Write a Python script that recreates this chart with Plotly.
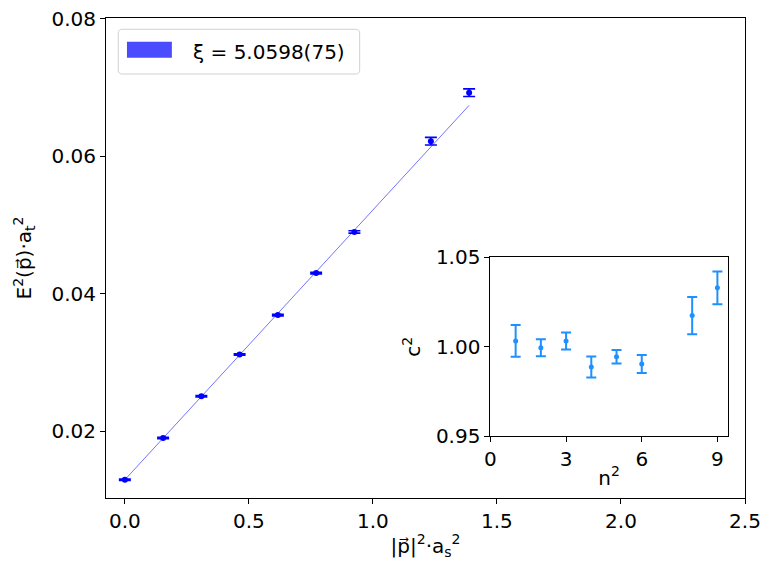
import plotly.graph_objects as go

# Main panel data: dispersion relation
n2 = [0, 1, 2, 3, 4, 5, 6, 8, 9]
p2 = [0.0, 0.1542, 0.3084, 0.4626, 0.6169, 0.7711, 0.9253, 1.2337, 1.3879]
E2 = [0.01295, 0.01902, 0.0251, 0.03116, 0.0369, 0.04301, 0.04899, 0.06219, 0.06924]
E2_err = [0.00010, 0.00010, 0.00010, 0.00010, 0.00012, 0.00012, 0.00018, 0.00055, 0.00055]

fit_x = [0.0, 1.3879]
fit_y = [0.01295, 0.0674]
fit_label = "ξ = 5.0598(75)"

# Inset data: speed of light squared
c2_n2 = [1, 2, 3, 4, 5, 6, 8, 9]
c2 = [1.0032, 0.9994, 1.0032, 0.9886, 0.9944, 0.9903, 1.0174, 1.0329]
c2_err = [0.0089, 0.0048, 0.0048, 0.0059, 0.0038, 0.0050, 0.0104, 0.0092]

FONT = "DejaVu Sans"
FS = 20

fig = go.Figure()

fig.add_trace(go.Scatter(
    x=fit_x, y=fit_y, mode="lines",
    line=dict(color="rgba(0,0,255,0.55)", width=1),
    showlegend=False, xaxis="x", yaxis="y"))

fig.add_trace(go.Scatter(
    x=p2, y=E2, mode="markers",
    marker=dict(color="blue", size=6),
    error_y=dict(type="data", array=E2_err, color="blue", thickness=1.6, width=6),
    showlegend=False, xaxis="x", yaxis="y"))

fig.add_trace(go.Scatter(
    x=c2_n2, y=c2, mode="markers",
    marker=dict(color="#1e90ff", size=5),
    error_y=dict(type="data", array=c2_err, color="#1e90ff", thickness=2, width=5),
    showlegend=False, xaxis="x2", yaxis="y2"))

axis_common = dict(showline=True, linecolor="black", linewidth=1, mirror=True,
                   ticks="outside", ticklen=5, tickcolor="black", showgrid=False,
                   zeroline=False, automargin=False,
                   tickfont=dict(family=FONT, size=FS, color="black"))

fig.update_layout(
    width=773, height=578,
    margin=dict(l=106, r=28, t=18, b=80),
    paper_bgcolor="white", plot_bgcolor="white",
    font=dict(family=FONT, size=FS, color="black"),
    showlegend=False,
    xaxis=dict(domain=[0, 1], range=[-0.076, 2.5], tickvals=[0, 0.5, 1.0, 1.5, 2.0, 2.5],
               tickformat=".1f",
               title=dict(text="|p⃗|<sup>2</sup>·a<sub>s</sub><sup>2</sup>", standoff=6,
                          font=dict(family=FONT, size=FS)),
               **axis_common),
    yaxis=dict(domain=[0, 1], range=[0.0103, 0.0801], tickvals=[0.02, 0.04, 0.06, 0.08],
               tickformat=".2f",
               title=dict(text="E<sup>2</sup>(p⃗)·a<sub>t</sub><sup>2</sup>", standoff=14,
                          font=dict(family=FONT, size=FS)),
               **axis_common),
    xaxis2=dict(domain=[0.6016, 0.973], range=[0, 9.41], tickvals=[0, 3, 6, 9],
                anchor="y2",
                title=dict(text="n<sup>2</sup>", standoff=0, font=dict(family=FONT, size=FS)),
                **axis_common),
    yaxis2=dict(domain=[0.129, 0.5015], range=[0.95, 1.05], tickvals=[0.95, 1.00, 1.05],
                tickformat=".2f", anchor="x2",
                title=dict(text="c<sup>2</sup>", standoff=9, font=dict(family=FONT, size=FS)),
                **axis_common),
)

# Manual legend (matplotlib-style patch legend)
x0, x1, y0, y1 = 0.0192, 0.397, 0.8833, 0.9765
rx, ry = 0.0065, 0.0087
path = (f"M {x0+rx},{y0} L {x1-rx},{y0} Q {x1},{y0} {x1},{y0+ry} "
        f"L {x1},{y1-ry} Q {x1},{y1} {x1-rx},{y1} L {x0+rx},{y1} "
        f"Q {x0},{y1} {x0},{y1-ry} L {x0},{y0+ry} Q {x0},{y0} {x0+rx},{y0} Z")
fig.add_shape(type="path", path=path, xref="paper", yref="paper",
              line=dict(color="#d0d0d0", width=1), fillcolor="rgba(255,255,255,0.8)")
fig.add_shape(type="rect", xref="paper", yref="paper",
              x0=0.0328, x1=0.1031, y0=0.9173, y1=0.9506,
              line=dict(width=0), fillcolor="rgba(0,0,255,0.7)")
fig.add_annotation(xref="paper", yref="paper", x=0.1328, y=0.929,
                   xanchor="left", yanchor="middle", showarrow=False,
                   text=fit_label, font=dict(family=FONT, size=FS, color="black"))

fig.write_html("out.html", config={"displayModeBar": False},
               post_script="document.body.style.margin='0px';")
